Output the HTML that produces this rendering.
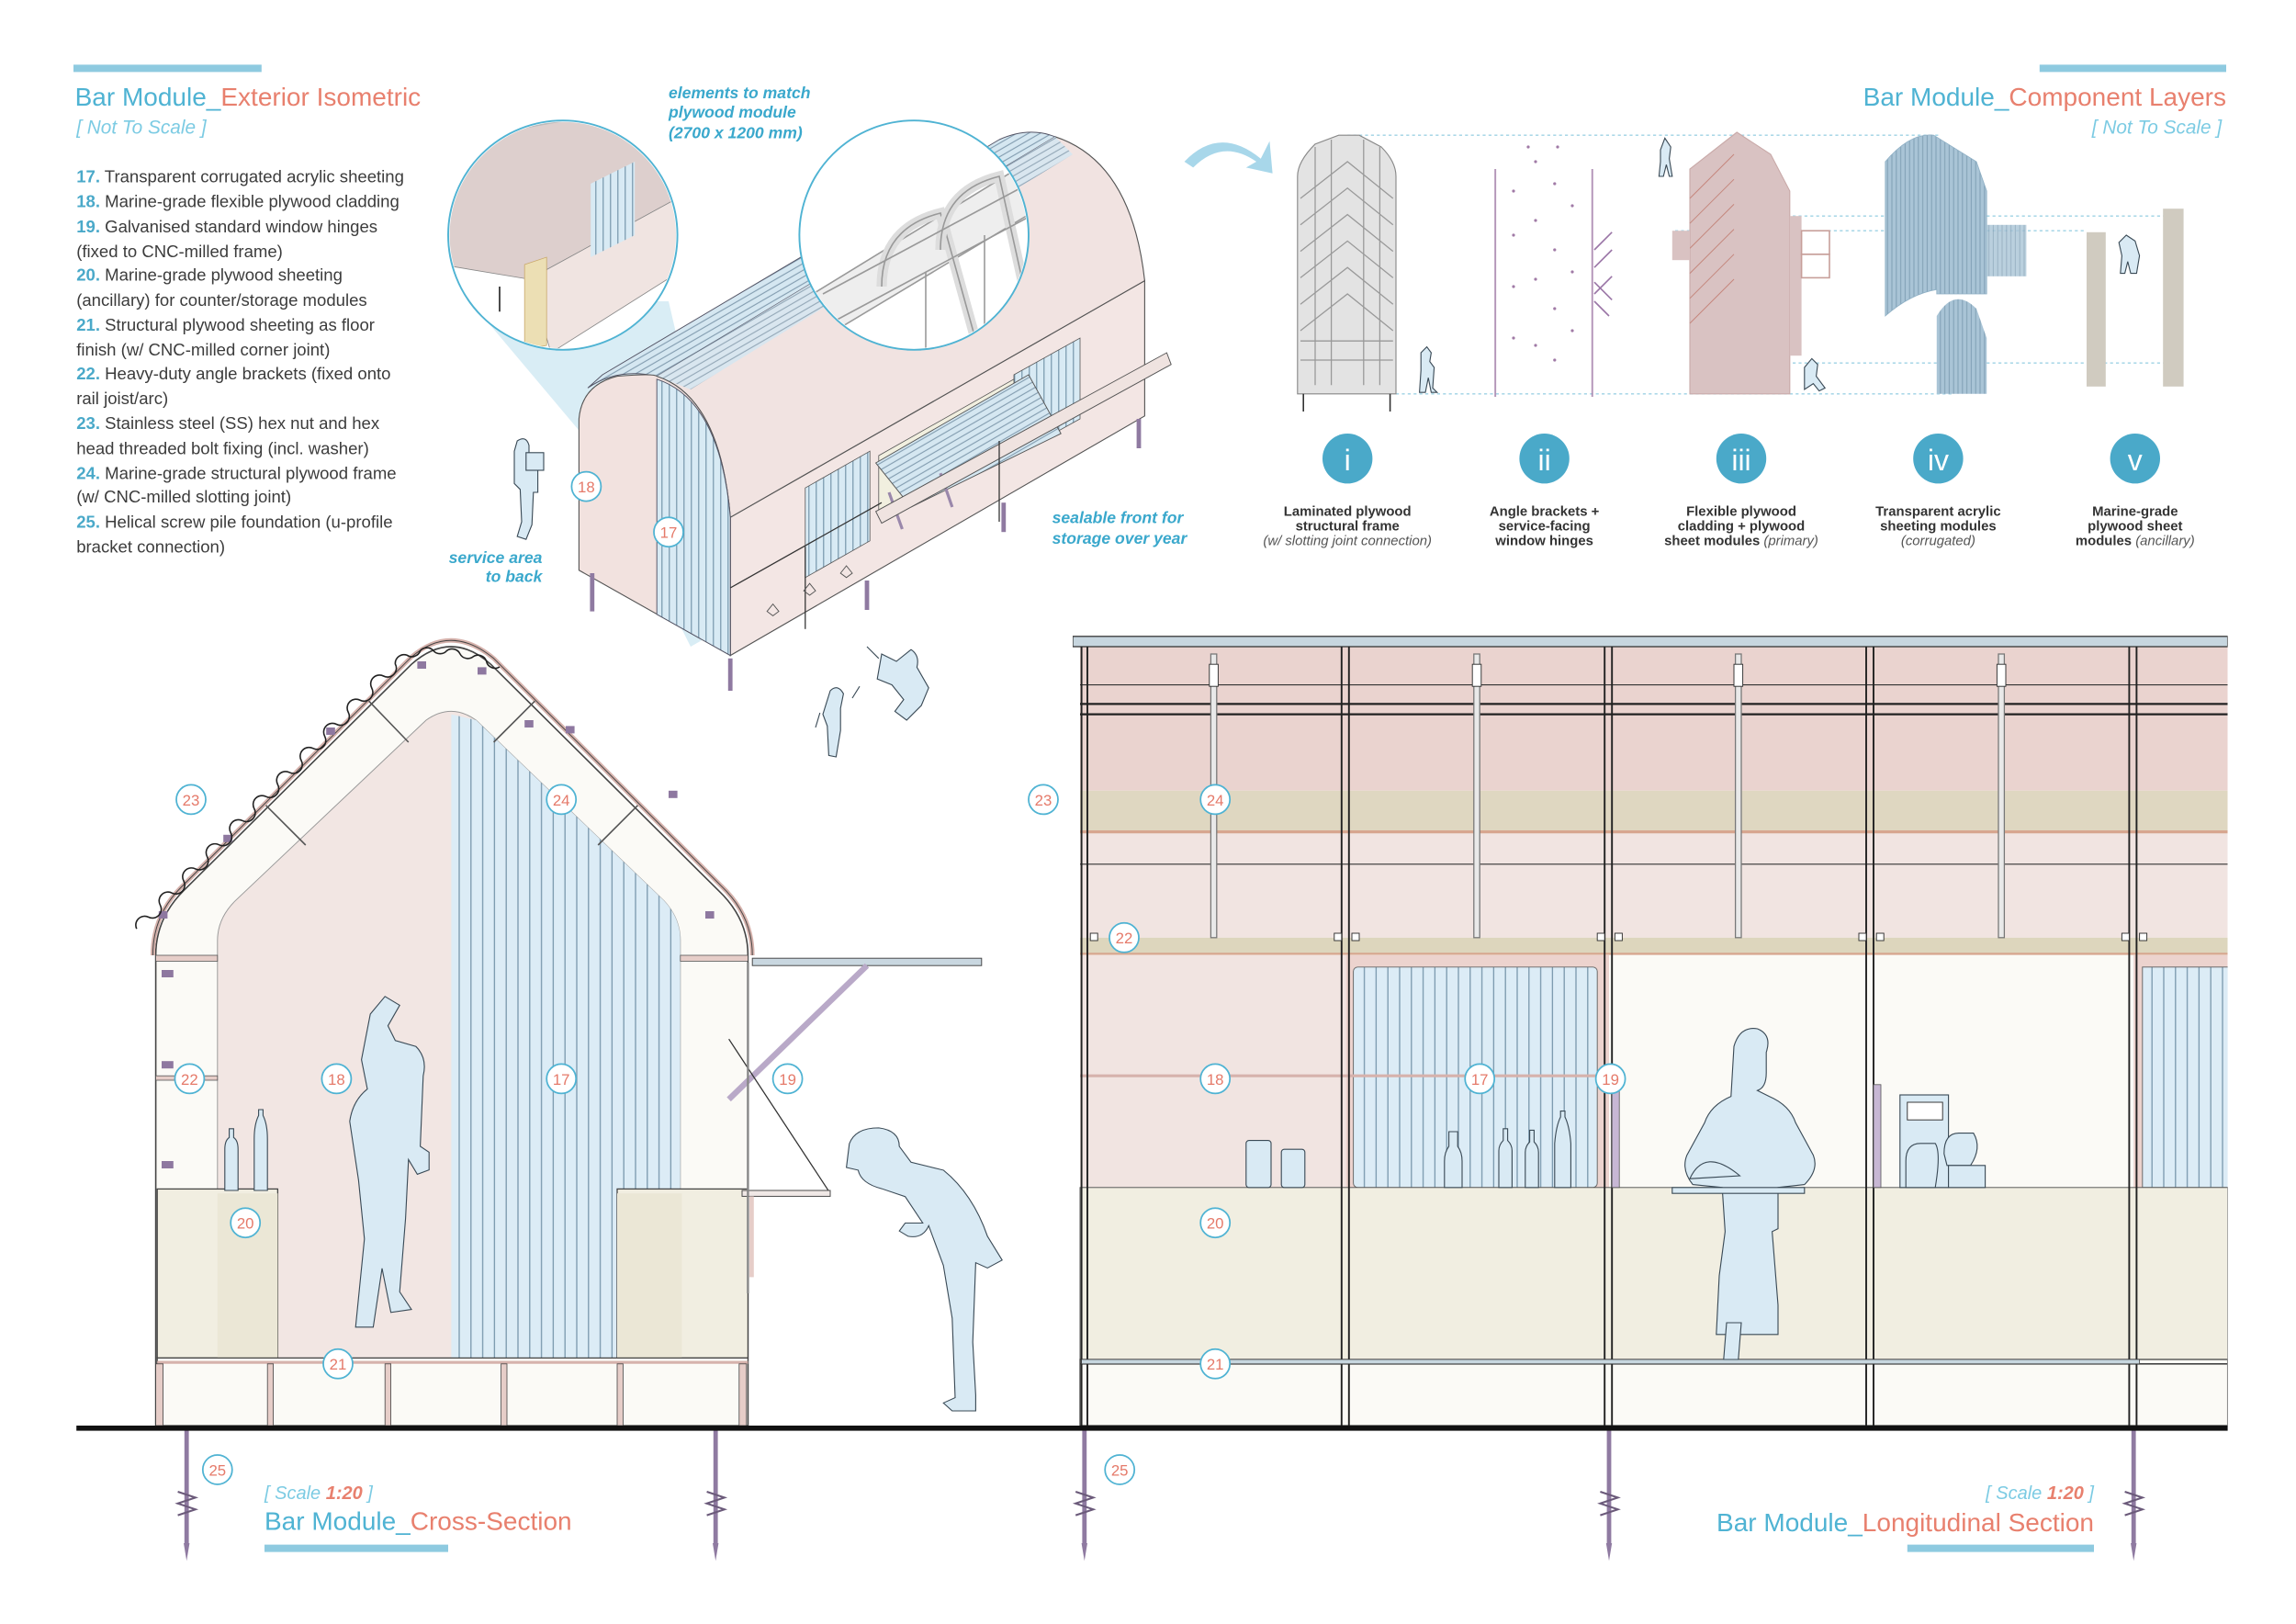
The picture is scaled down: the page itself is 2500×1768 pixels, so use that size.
<!DOCTYPE html>
<html><head><meta charset="utf-8"><style>
html,body{margin:0;padding:0;background:#fff}
svg{display:block}
text{font-family:"Liberation Sans",sans-serif}
</style></head><body>
<svg width="2500" height="1768" viewBox="0 0 1562.5 1105" xmlns="http://www.w3.org/2000/svg">
<defs>
<pattern id="corr" width="5" height="10" patternUnits="userSpaceOnUse"><rect width="5" height="10" fill="#d8eaf4"/><line x1="0.5" y1="0" x2="0.5" y2="10" stroke="#6f8fa6" stroke-width="0.7"/></pattern>
<pattern id="corrB" width="8" height="10" patternUnits="userSpaceOnUse"><rect width="8" height="10" fill="#dcecf6"/><line x1="0.5" y1="0" x2="0.5" y2="10" stroke="#7896ab" stroke-width="0.8"/></pattern>
<pattern id="corrD" width="4" height="4" patternUnits="userSpaceOnUse" patternTransform="rotate(-30)"><rect width="4" height="4" fill="#d5e7f1"/><line x1="0" y1="0.5" x2="4" y2="0.5" stroke="#7590a5" stroke-width="0.6"/></pattern>
<pattern id="corrV" width="3" height="10" patternUnits="userSpaceOnUse"><rect width="3" height="10" fill="#a9c4d6"/><line x1="0.5" y1="0" x2="0.5" y2="10" stroke="#7e9db3" stroke-width="0.6"/></pattern>
</defs>
<style>
.t{font-size:11.6px;fill:#3c3c3c}
.n{fill:#4aa9c9;font-weight:bold}
.lbl circle{fill:#fff;stroke:#4fb3d3;stroke-width:1.1}
.lbl text{font-size:10.5px;fill:#e57a6a;text-anchor:middle}
.cap{font-size:9.3px;fill:#333;text-anchor:middle;font-weight:bold}
.capi{font-style:italic;font-weight:normal;fill:#555}
.note{font-size:11px;fill:#3aa8cc;font-style:italic;font-weight:bold}
.ln{stroke:#333;stroke-width:0.8;fill:none}
.fig{fill:#d9eaf4;stroke:#3a4a56;stroke-width:0.7}
.pile{stroke:#8f7aa1;stroke-width:3;fill:none}
</style>

<rect x="50" y="44" width="128" height="5" fill="#8ecae0"/>
<text x="51" y="72" font-size="17.5"><tspan fill="#4fb3d3">Bar Module_</tspan><tspan fill="#e8806e">Exterior Isometric</tspan></text>
<text x="52" y="91" font-size="13" font-style="italic" fill="#7ccbe3">[ Not To Scale ]</text>

<g class="t">
<text x="52" y="124"><tspan class="n">17.</tspan> Transparent corrugated acrylic sheeting</text>
<text x="52" y="141"><tspan class="n">18.</tspan> Marine-grade flexible plywood cladding</text>
<text x="52" y="158"><tspan class="n">19.</tspan> Galvanised standard window hinges</text>
<text x="52" y="175">(fixed to CNC-milled frame)</text>
<text x="52" y="191"><tspan class="n">20.</tspan> Marine-grade plywood sheeting</text>
<text x="52" y="208">(ancillary) for counter/storage modules</text>
<text x="52" y="225"><tspan class="n">21.</tspan> Structural plywood sheeting as floor</text>
<text x="52" y="242">finish (w/ CNC-milled corner joint)</text>
<text x="52" y="258"><tspan class="n">22.</tspan> Heavy-duty angle brackets (fixed onto</text>
<text x="52" y="275">rail joist/arc)</text>
<text x="52" y="292"><tspan class="n">23.</tspan> Stainless steel (SS) hex nut and hex</text>
<text x="52" y="309">head threaded bolt fixing (incl. washer)</text>
<text x="52" y="326"><tspan class="n">24.</tspan> Marine-grade structural plywood frame</text>
<text x="52" y="342">(w/ CNC-milled slotting joint)</text>
<text x="52" y="359"><tspan class="n">25.</tspan> Helical screw pile foundation (u-profile</text>
<text x="52" y="376">bracket connection)</text>
</g>

<text class="note" x="455" y="67">elements to match</text>
<text class="note" x="455" y="80">plywood module</text>
<text class="note" x="455" y="94" font-weight="normal">(2700 x 1200 mm)</text>
<text class="note" x="716" y="356">sealable front for</text>
<text class="note" x="716" y="370">storage over year</text>
<text class="note" x="369" y="383" text-anchor="end">service area</text>
<text class="note" x="369" y="396" text-anchor="end">to back</text>

<polygon points="320,205 455,205 505,420 470,440 400,300" fill="#bfe1ee" opacity="0.6"/>
<polygon points="497,352 779,191 779,283 497,446" fill="#f3e6e4" stroke="#555" stroke-width="0.7"/>
<path d="M447,256 L718,93 Q770,110 779,191 L497,352 Q490,270 447,256 Z" fill="#f1e3e1" stroke="#555" stroke-width="0.7"/>
<path d="M400,264 Q420,250 447,256 L718,93 Q700,86 680,95 L410,255 Z" fill="url(#corrD)" stroke="#556" stroke-width="0.6"/>
<path d="M447,256 L718,93 L730,105 L470,265 Z" fill="url(#corrD)" opacity="0.85"/>
<path d="M394,285 Q396,262 420,256 Q445,254 447,256 Q490,270 497,352 L497,446 L394,388 Z" fill="#f2e2df" stroke="#555" stroke-width="0.7"/>
<path d="M447,258 Q490,272 497,352 L497,446 L447,418 L447,258 Z" fill="url(#corr)" stroke="#556" stroke-width="0.6"/>
<polygon points="548,332 592,307 592,368 548,393" fill="url(#corr)" stroke="#555" stroke-width="0.5"/>
<polygon points="690,255 735,230 735,285 690,310" fill="url(#corr)" stroke="#555" stroke-width="0.5"/>
<polygon points="598,310 690,258 690,300 598,352" fill="#f1efdf" stroke="#555" stroke-width="0.5"/>
<polygon points="596,315 700,255 722,295 620,345" fill="url(#corrD)" stroke="#555" stroke-width="0.6"/>
<line x1="605" y1="335" x2="614" y2="360" stroke="#9a88ab" stroke-width="2"/>
<line x1="640" y1="322" x2="648" y2="345" stroke="#9a88ab" stroke-width="2"/>
<polygon points="596,348 794,240 797,248 600,356" fill="#efe3e0" stroke="#555" stroke-width="0.6"/>
<line x1="497" y1="400" x2="600" y2="342" class="ln" stroke-width="0.5"/>
<line x1="548" y1="372" x2="548" y2="428" class="ln" stroke-width="0.4"/>
<line x1="680" y1="300" x2="680" y2="355" class="ln" stroke-width="0.4"/>
<g fill="none" stroke="#555" stroke-width="0.6"><path d="M522,416 l4,-5 4,5 -4,3 z"/><path d="M547,402 l4,-5 4,5 -4,3 z"/><path d="M572,390 l4,-5 4,5 -4,3 z"/></g>
<g class="pile" stroke-width="1.6"><line x1="403" y1="390" x2="403" y2="416"/><line x1="497" y1="448" x2="497" y2="470"/><line x1="590" y1="395" x2="590" y2="415"/><line x1="683" y1="342" x2="683" y2="362"/><line x1="775" y1="285" x2="775" y2="305"/></g>
<circle cx="383" cy="160" r="78" fill="#fff" stroke="#4fb3d3" stroke-width="1.2"/>
<clipPath id="c1"><circle cx="383" cy="160" r="77"/></clipPath>
<g clip-path="url(#c1)">
<polygon points="300,90 440,70 470,130 360,190 300,180" fill="#ddcfcd" stroke="#888" stroke-width="0.5"/>
<polygon points="360,190 470,130 470,180 375,240" fill="#f0e4e1" stroke="#888" stroke-width="0.5"/>
<polygon points="402,125 432,110 432,160 402,175" fill="url(#corr)"/>
<polygon points="357,180 372,175 372,235 357,238" fill="#ecdfb4" stroke="#c9a86a" stroke-width="0.5"/>
<line x1="300" y1="95" x2="440" y2="70" stroke="#bbb" stroke-width="5"/>
<line x1="340" y1="195" x2="340" y2="212" stroke="#444" stroke-width="1.2"/>
</g>
<circle cx="622" cy="160" r="78" fill="#fff" stroke="#4fb3d3" stroke-width="1.2"/>
<clipPath id="c2"><circle cx="622" cy="160" r="77"/></clipPath>
<g clip-path="url(#c2)" fill="none" stroke="#999" stroke-width="1">
<path d="M545,205 L700,110 L710,140 L560,230 Z" fill="#eee"/>
<path d="M600,195 Q600,155 640,145 L665,235" stroke-width="7" stroke="#ddd"/>
<path d="M600,195 Q600,155 640,145 L665,235"/>
<path d="M640,170 Q640,130 680,120 L700,210" stroke-width="7" stroke="#ddd"/>
<path d="M640,170 Q640,130 680,120 L700,210"/>
<line x1="560" y1="200" x2="700" y2="125"/><line x1="565" y1="220" x2="705" y2="145"/>
<line x1="630" y1="185" x2="630" y2="240"/><line x1="670" y1="160" x2="670" y2="240"/>
</g>
<g class="lbl"><circle cx="399" cy="331" r="10"/><text x="399" y="335">18</text><circle cx="455" cy="362" r="10"/><text x="455" y="366">17</text></g>
<path class="fig" d="M352,300 q6,-4 8,3 l0,8 6,2 0,22 -3,0 -1,22 -4,10 -6,-2 3,-10 -1,-22 -4,-4 0,-22 z"/>
<rect class="fig" x="358" y="308" width="12" height="12"/>
<path class="fig" d="M565,470 q5,-5 9,2 l-2,10 0,15 -3,18 -5,-1 -1,-20 -3,-8 z M558,485 l-3,10 M580,475 l5,-8"/>
<path class="fig" d="M600,445 l10,5 10,-8 q6,4 4,12 l8,14 -5,12 -10,10 -8,-6 6,-8 -8,-10 -10,-4 z M590,440 l8,8"/>

<path d="M806,110 Q830,85 858,108 L864,96 L866,118 L848,114 L855,110 Q832,94 812,114 Z" fill="#a8d7ea"/>

<rect x="1388" y="44" width="127" height="5" fill="#8ecae0"/>
<text x="1515" y="72" font-size="17.5" text-anchor="end"><tspan fill="#4fb3d3">Bar Module_</tspan><tspan fill="#e8806e">Component Layers</tspan></text>
<text x="1512" y="91" font-size="13" font-style="italic" fill="#7ccbe3" text-anchor="end">[ Not To Scale ]</text>

<g stroke="#9fd2e4" stroke-width="0.8" stroke-dasharray="2,2">
<line x1="917" y1="92" x2="1320" y2="92"/><line x1="1160" y1="147" x2="1485" y2="147"/>
<line x1="1140" y1="157" x2="1420" y2="157"/><line x1="1220" y1="247" x2="1485" y2="247"/>
<line x1="950" y1="268" x2="1330" y2="268"/>
</g>
<g fill="#e3e3e3" stroke="#888" stroke-width="0.7">
<path d="M883,268 L883,120 Q883,110 895,98 L911,92 L925,92 L940,100 Q950,110 950,120 L950,268 Z"/>
</g>
<g fill="none" stroke="#999" stroke-width="0.8">
<path d="M885,135 L917,110 L948,135"/><path d="M885,153 L917,128 L948,153"/><path d="M885,171 L917,146 L948,171"/><path d="M885,189 L917,164 L948,189"/><path d="M885,207 L917,182 L948,207"/><path d="M885,225 L917,200 L948,225"/>
<line x1="895" y1="100" x2="895" y2="262"/><line x1="906" y1="95" x2="906" y2="262"/><line x1="928" y1="95" x2="928" y2="262"/><line x1="939" y1="100" x2="939" y2="262"/>
<line x1="885" y1="245" x2="948" y2="245"/><line x1="885" y1="232" x2="948" y2="232"/>
</g>
<line x1="887" y1="268" x2="887" y2="280" stroke="#333"/><line x1="946" y1="268" x2="946" y2="280" stroke="#333"/>
<path class="fig" d="M967,240 l4,-4 3,4 -1,6 3,4 -1,14 3,3 -4,0 -2,-10 -2,10 -4,0 1,-15 z"/>
<g fill="#a07aa6">
<rect x="1017" y="115" width="1.2" height="155" opacity="0.8"/><rect x="1083" y="115" width="1.2" height="155" opacity="0.8"/>
<circle cx="1030" cy="130" r="1"/><circle cx="1045" cy="110" r="1"/><circle cx="1058" cy="125" r="1"/><circle cx="1070" cy="140" r="1"/><circle cx="1030" cy="160" r="1"/><circle cx="1045" cy="150" r="1"/><circle cx="1058" cy="170" r="1"/><circle cx="1070" cy="185" r="1"/><circle cx="1030" cy="195" r="1"/><circle cx="1045" cy="190" r="1"/><circle cx="1058" cy="210" r="1"/><circle cx="1070" cy="225" r="1"/><circle cx="1030" cy="230" r="1"/><circle cx="1045" cy="235" r="1"/><circle cx="1058" cy="245" r="1"/><circle cx="1040" cy="100" r="1"/><circle cx="1060" cy="100" r="1"/>
</g>
<path d="M1085,170 l12,-12 M1085,182 l12,-12 M1085,192 l12,12 M1085,200 l12,-12 M1085,205 l10,10" stroke="#9a75a6" stroke-width="1"/>
<path class="fig" d="M1130,102 l3,-8 4,6 -1,8 2,12 -2,0 -2,-8 -2,8 -3,0 1,-10 z"/>
<path d="M1150,268 L1150,115 L1182,90 L1205,105 L1218,130 L1218,268 Z" fill="#d9c2c2" stroke="#c9aaa9" stroke-width="0.7"/>
<g stroke="#c4867c" stroke-width="0.6" fill="none"><path d="M1150,135 l30,-30"/><path d="M1150,152 l30,-30"/><path d="M1150,169 l30,-30"/><path d="M1150,186 l30,-30"/><path d="M1150,203 l30,-30"/><path d="M1150,220 l30,-30"/></g>
<rect x="1218" y="147" width="8" height="95" fill="#d9c2c2"/>
<rect x="1226" y="157" width="19" height="16" fill="none" stroke="#c79f9a"/><rect x="1226" y="173" width="19" height="16" fill="none" stroke="#c79f9a"/>
<rect x="1138" y="157" width="12" height="20" fill="#d9c2c2"/>
<path class="fig" d="M1228,250 l5,-6 4,4 -1,8 6,8 -4,2 -4,-5 -6,4 z"/>
<path d="M1283,215 L1283,110 Q1300,90 1316,92 L1345,110 L1352,130 L1352,200 L1318,200 L1318,197 Q1300,200 1283,215 Z" fill="url(#corrV)" stroke="#8fb0c5" stroke-width="0.5"/>
<path d="M1318,268 L1318,215 Q1330,195 1345,210 L1352,230 L1352,268 Z" fill="url(#corrV)"/>
<rect x="1352" y="153" width="27" height="35" fill="url(#corrV)" opacity="0.8"/>
<rect x="1420" y="158" width="13" height="105" fill="#d0cbc0"/><rect x="1472" y="142" width="14" height="121" fill="#d0cbc0"/>
<path class="fig" d="M1442,165 l5,-5 6,4 3,10 -2,12 -4,0 -2,-8 -2,8 -3,0 1,-12 z"/>

<g fill="#4aa9c9"><circle cx="917" cy="312" r="17"/><circle cx="1051" cy="312" r="17"/><circle cx="1185" cy="312" r="17"/><circle cx="1319" cy="312" r="17"/><circle cx="1453" cy="312" r="17"/></g>
<g font-size="20" fill="#fff" text-anchor="middle"><text x="917" y="320">i</text><text x="1051" y="320">ii</text><text x="1185" y="320">iii</text><text x="1319" y="320">iv</text><text x="1453" y="320">v</text></g>
<text class="cap" x="917" y="351">Laminated plywood</text><text class="cap" x="917" y="361">structural frame</text><text class="cap capi" x="917" y="371">(w/ slotting joint connection)</text>
<text class="cap" x="1051" y="351">Angle brackets +</text><text class="cap" x="1051" y="361">service-facing</text><text class="cap" x="1051" y="371">window hinges</text>
<text class="cap" x="1185" y="351">Flexible plywood</text><text class="cap" x="1185" y="361">cladding + plywood</text><text class="cap" x="1185" y="371">sheet modules <tspan class="capi">(primary)</tspan></text>
<text class="cap" x="1319" y="351">Transparent acrylic</text><text class="cap" x="1319" y="361">sheeting modules</text><text class="cap capi" x="1319" y="371">(corrugated)</text>
<text class="cap" x="1453" y="351">Marine-grade</text><text class="cap" x="1453" y="361">plywood sheet</text><text class="cap" x="1453" y="371">modules <tspan class="capi">(ancillary)</tspan></text>

<!-- CROSS SECTION -->
<path d="M106,970 L106,650 Q106,625 125,606 L280,452 Q307,428 334,452 L489,606 Q509,625 509,650 L509,970 Z" fill="#fbfaf6" stroke="#444" stroke-width="1"/>
<path d="M104,650 Q104,623 123,604 L280,447 Q307,424 336,448 L491,603 Q512,623 512,650" fill="none" stroke="#d6b2ac" stroke-width="3"/>
<path d="M104,650 Q104,623 123,604 L280,447 Q307,424 336,448 L491,603 Q512,623 512,650" fill="none" stroke="#444" stroke-width="0.6"/>
<path d="M148,924 L148,640 Q148,625 160,613 L290,490 Q307,478 324,490 L452,613 Q463,625 463,640 L463,924 Z" fill="#f2e6e3" stroke="#999" stroke-width="0.6"/>
<clipPath id="cs"><path d="M307,486 L324,490 L452,613 Q463,625 463,640 L463,924 L307,924 Z"/></clipPath>
<rect x="307" y="480" width="160" height="450" fill="url(#corrB)" clip-path="url(#cs)"/>
<g stroke="#555" stroke-width="1" fill="none">
<line x1="251" y1="477" x2="278" y2="505"/><line x1="364" y1="477" x2="336" y2="505"/>
<line x1="181" y1="548" x2="208" y2="575"/><line x1="434" y1="548" x2="407" y2="575"/>
</g>
<rect x="106" y="650" width="42" height="4" fill="#e6cdc8" stroke="#555" stroke-width="0.5"/>
<rect x="463" y="650" width="46" height="4" fill="#e6cdc8" stroke="#555" stroke-width="0.5"/>
<rect x="106" y="732" width="42" height="3" fill="#e6cdc8" stroke="#555" stroke-width="0.5"/>
<g fill="#8e78a0"><rect x="110" y="660" width="8" height="5"/><rect x="110" y="722" width="8" height="5"/><rect x="110" y="790" width="8" height="5"/><rect x="110" y="820" width="8" height="5"/><rect x="110" y="882" width="8" height="5"/><rect x="110" y="948" width="8" height="5"/><rect x="284" y="450" width="6" height="5"/><rect x="325" y="454" width="6" height="5"/><rect x="357" y="490" width="6" height="5"/><rect x="385" y="494" width="6" height="5"/><rect x="455" y="538" width="6" height="5"/><rect x="152" y="568" width="6" height="5"/><rect x="222" y="495" width="6" height="5"/><rect x="108" y="620" width="6" height="5"/><rect x="480" y="620" width="6" height="5"/></g>
<path transform="translate(-5,-13)" d="M98,645 a6,6 0 0 1 8,-8 a6,6 0 0 0 8,-8.2 a6,6 0 0 1 8,-8.2 a6,6 0 0 0 8,-8.2 a6,6 0 0 1 8,-8.2 a6,6 0 0 0 8,-8.2 a6,6 0 0 1 8,-8.2 a6,6 0 0 0 8,-8.2 a6,6 0 0 1 8,-8.2 a6,6 0 0 0 8,-8.2 a6,6 0 0 1 8,-8.2 a6,6 0 0 0 8,-8.2 a6,6 0 0 1 8,-8.2 a6,6 0 0 0 8,-8.2 a6,6 0 0 1 8,-8.2 a6,6 0 0 0 8,-8.2 a6,6 0 0 1 8,-8.2 a6,6 0 0 0 8,-8.2 a6,6 0 0 1 8,-8.2 a6,6 0 0 0 8,-8.2 a6,6 0 0 1 8,-8.2 a6,6 0 0 0 8,-8.2 a6,6 0 0 1 8,-6 a6,6 0 0 0 9,-3 a6,6 0 0 1 9,0 a6,6 0 0 0 9,0 a6,6 0 0 1 9,2 a6,6 0 0 0 9,2 a6,6 0 0 1 9,3 a6,6 0 0 0 9,4" fill="none" stroke="#222" stroke-width="1"/>
<rect x="107" y="809" width="82" height="115" fill="#f1eee1" stroke="#444" stroke-width="0.8"/>
<rect x="148" y="812" width="41" height="112" fill="#ebe7d6"/>
<rect x="420" y="809" width="89" height="115" fill="#f1eee1" stroke="#444" stroke-width="0.8"/>
<rect x="420" y="812" width="44" height="112" fill="#ebe7d6"/>
<rect x="107" y="924" width="402" height="46" fill="#fbfaf6" stroke="#444" stroke-width="0.8"/>
<line x1="107" y1="927" x2="509" y2="927" stroke="#d6b2ac" stroke-width="2"/>
<g fill="#e6cdc8" stroke="#444" stroke-width="0.5"><rect x="182" y="928" width="4" height="42"/><rect x="262" y="928" width="4" height="42"/><rect x="341" y="928" width="4" height="42"/><rect x="420" y="928" width="4" height="42"/><rect x="106" y="928" width="5" height="42"/><rect x="503" y="928" width="5" height="42"/></g>
<rect x="512" y="652" width="156" height="5" fill="#c9d7e0" stroke="#444" stroke-width="0.6"/>
<line x1="590" y1="657" x2="496" y2="748" stroke="#b9a9c8" stroke-width="4"/>
<line x1="496" y1="707" x2="565" y2="812" stroke="#333" stroke-width="0.8"/>
<rect x="505" y="810" width="60" height="4" fill="#f0e8e6" stroke="#444" stroke-width="0.6"/>
<line x1="509" y1="655" x2="509" y2="880" stroke="#888" stroke-width="1.5"/>
<rect x="510" y="814" width="3" height="55" fill="#e6cdc8"/>
<path class="fig" d="M153,810 l0,-28 q0,-6 3,-8 l0,-6 3,0 0,6 q3,2 3,8 l0,28 z"/>
<path class="fig" d="M173,810 l0,-35 q0,-10 3,-16 l0,-4 3,0 0,4 q3,6 3,16 l0,35 z"/>
<path class="fig" d="M252,690 l10,-12 10,6 -8,14 5,10 14,4 q8,8 5,20 l-2,48 6,4 0,12 -8,3 -6,-10 -2,40 -4,50 8,12 -14,2 -6,-30 -6,40 -12,0 6,-60 -4,-40 -6,-40 q2,-14 12,-22 l-4,-20 z"/>
<path class="fig" transform="translate(0,78) scale(1,0.9)" d="M578,778 q4,-12 20,-12 q14,2 14,14 l8,12 22,6 q20,18 30,50 l10,18 -10,6 -8,-4 -2,60 2,40 0,12 -16,0 -6,-6 8,-4 -2,-60 -6,-40 -10,-30 q-4,10 -14,8 l-6,-4 4,-6 12,0 -12,-20 -16,-6 q-14,-4 -16,-14 l-8,-2 z"/>
<g class="pile"><line x1="127" y1="972" x2="127" y2="1050"/><line x1="487" y1="972" x2="487" y2="1050"/></g>
<g stroke="#6b5a7a" stroke-width="1.3" fill="none"><path d="M121,1015 l12,4 -12,4 12,4 -12,4"/><path d="M481,1015 l12,4 -12,4 12,4 -12,4"/></g>
<path d="M125,1050 l2,12 2,-12 z M485,1050 l2,12 2,-12 z" fill="#8f7aa1"/>

<!-- LONGITUDINAL -->
<clipPath id="ls"><rect x="730" y="430" width="786" height="545"/></clipPath>
<g clip-path="url(#ls)">
<rect x="735" y="440" width="781" height="98" fill="#ead3cf"/>
<rect x="735" y="538" width="781" height="29" fill="#dfd7c1"/>
<rect x="735" y="567" width="781" height="71" fill="#f1e4e1"/>
<rect x="735" y="638" width="781" height="11" fill="#ddd6bd"/>
<line x1="735" y1="649" x2="1516" y2="649" stroke="#d7a68f" stroke-width="1.5"/>
<line x1="735" y1="566" x2="1516" y2="566" stroke="#d7a68f" stroke-width="2"/>
<rect x="735" y="650" width="181" height="158" fill="#f1e4e1"/>
<rect x="916" y="650" width="179" height="158" fill="#ecd3ce"/>
<rect x="921" y="658" width="166" height="150" rx="3" fill="url(#corrB)" stroke="#666" stroke-width="0.6"/>
<rect x="1095" y="650" width="357" height="158" fill="#fbfaf6"/>
<rect x="1452" y="650" width="64" height="158" fill="#ecd3ce"/>
<rect x="1458" y="658" width="60" height="150" fill="url(#corrB)" stroke="#666" stroke-width="0.6"/>
<line x1="735" y1="732" x2="1095" y2="732" stroke="#d6b2ac" stroke-width="2"/>
<rect x="735" y="808" width="781" height="117" fill="#f1eee1" stroke="#555" stroke-width="0.6"/>
<rect x="735" y="925" width="781" height="45" fill="#fbfaf6" stroke="#444" stroke-width="0.8"/>
<line x1="735" y1="928" x2="1516" y2="928" stroke="#444" stroke-width="1"/>
<g stroke="#333" stroke-width="0.7">
<line x1="735" y1="466" x2="1516" y2="466"/><line x1="735" y1="588" x2="1516" y2="588"/>
</g>
<line x1="735" y1="479" x2="1516" y2="479" stroke="#222" stroke-width="1.4"/>
<line x1="735" y1="486" x2="1516" y2="486" stroke="#222" stroke-width="1.4"/>
<rect x="730" y="433" width="786" height="7" fill="#c7d6df" stroke="#333" stroke-width="0.8"/>
<g fill="none" stroke="#222" stroke-width="1.2">
<path d="M736,440 V970 M740,440 V970"/><path d="M913,440 V970 M918,440 V970"/><path d="M1092,440 V970 M1097,440 V970"/><path d="M1270,440 V970 M1275,440 V970"/><path d="M1449,440 V970 M1454,440 V970"/>
</g>
<g stroke="#777" stroke-width="0.8" fill="#e9e9e9">
<rect x="824" y="445" width="4" height="193"/><rect x="1003" y="445" width="4" height="193"/><rect x="1181" y="445" width="4" height="193"/><rect x="1360" y="445" width="4" height="193"/>
</g>
<g fill="#fff" stroke="#333" stroke-width="0.6">
<rect x="823" y="452" width="6" height="15"/><rect x="1002" y="452" width="6" height="15"/><rect x="1180" y="452" width="6" height="15"/><rect x="1359" y="452" width="6" height="15"/>
<rect x="742" y="635" width="5" height="5"/><rect x="908" y="635" width="5" height="5"/><rect x="920" y="635" width="5" height="5"/><rect x="1087" y="635" width="5" height="5"/><rect x="1099" y="635" width="5" height="5"/><rect x="1265" y="635" width="5" height="5"/><rect x="1277" y="635" width="5" height="5"/><rect x="1444" y="635" width="5" height="5"/><rect x="1456" y="635" width="5" height="5"/>
</g>
<g fill="#c7b7d4" stroke="#555" stroke-width="0.5"><rect x="1097" y="738" width="5" height="70"/><rect x="1275" y="738" width="5" height="70"/></g>
<g fill="#c7d6df" stroke="#444" stroke-width="0.5"><rect x="736" y="925" width="720" height="3"/></g>
</g>
<rect class="fig" x="848" y="776" width="17" height="32" rx="2"/><rect class="fig" x="872" y="782" width="16" height="26" rx="2"/>
<path class="fig" d="M983,808 l0,-18 q0,-6 3,-10 l0,-10 6,0 0,10 q3,4 3,10 l0,18 z"/>
<path class="fig" d="M1020,808 l0,-25 q0,-4 3,-7 l0,-8 3,0 0,8 q3,3 3,7 l0,25 z"/>
<path class="fig" d="M1038,808 l0,-24 q0,-4 3,-7 l0,-8 3,0 0,8 q3,3 3,7 l0,24 z"/>
<path class="fig" d="M1058,808 l0,-30 q1,-12 4,-18 l0,-4 3,0 0,4 q3,6 4,18 l0,30 z"/>
<rect class="fig" x="1293" y="745" width="33" height="63"/><rect x="1298" y="750" width="24" height="12" fill="#fff" stroke="#333" stroke-width="0.6"/>
<path class="fig" d="M1297,790 q0,-12 10,-12 l10,0 q4,6 0,30 l-20,0 z"/>
<path class="fig" d="M1323,785 q0,-14 10,-14 l10,0 q6,10 -2,22 l-16,0 z"/>
<rect class="fig" x="1326" y="793" width="25" height="15"/>
<path class="fig" d="M1180,712 q4,-14 16,-12 q10,4 6,16 l0,14 q0,10 -6,12 l8,4 q14,6 18,18 l12,22 q4,10 -6,20 l-18,2 0,28 -4,2 4,50 0,20 -42,0 2,-40 4,-30 -2,-30 -20,-2 q-8,-10 -4,-20 l12,-22 q4,-12 18,-18 z"/>
<path class="fig" d="M1138,808 l90,0 0,4 -90,0 z M1150,802 q10,-22 34,-2 z"/>
<path class="fig" d="M1175,900 l10,0 -2,25 -10,0 z"/>

<g class="pile"><line x1="738" y1="972" x2="738" y2="1050"/><line x1="1095" y1="972" x2="1095" y2="1050"/><line x1="1452" y1="972" x2="1452" y2="1050"/></g>
<g stroke="#6b5a7a" stroke-width="1.3" fill="none"><path d="M732,1015 l12,4 -12,4 12,4 -12,4"/><path d="M1089,1015 l12,4 -12,4 12,4 -12,4"/><path d="M1446,1015 l12,4 -12,4 12,4 -12,4"/></g>
<path d="M736,1050 l2,12 2,-12 z M1093,1050 l2,12 2,-12 z M1450,1050 l2,12 2,-12 z" fill="#8f7aa1"/>

<rect x="52" y="970" width="1464" height="3.5" fill="#111"/>

<g class="lbl">
<circle cx="130" cy="544" r="10"/><text x="130" y="548">23</text>
<circle cx="382" cy="544" r="10"/><text x="382" y="548">24</text>
<circle cx="129" cy="734" r="10"/><text x="129" y="738">22</text>
<circle cx="229" cy="734" r="10"/><text x="229" y="738">18</text>
<circle cx="382" cy="734" r="10"/><text x="382" y="738">17</text>
<circle cx="536" cy="734" r="10"/><text x="536" y="738">19</text>
<circle cx="167" cy="832" r="10"/><text x="167" y="836">20</text>
<circle cx="230" cy="928" r="10"/><text x="230" y="932">21</text>
<circle cx="148" cy="1000" r="10"/><text x="148" y="1004">25</text>
<circle cx="710" cy="544" r="10"/><text x="710" y="548">23</text>
<circle cx="827" cy="544" r="10"/><text x="827" y="548">24</text>
<circle cx="765" cy="638" r="10"/><text x="765" y="642">22</text>
<circle cx="827" cy="734" r="10"/><text x="827" y="738">18</text>
<circle cx="1007" cy="734" r="10"/><text x="1007" y="738">17</text>
<circle cx="1096" cy="734" r="10"/><text x="1096" y="738">19</text>
<circle cx="827" cy="832" r="10"/><text x="827" y="836">20</text>
<circle cx="827" cy="928" r="10"/><text x="827" y="932">21</text>
<circle cx="762" cy="1000" r="10"/><text x="762" y="1004">25</text>
</g>

<text x="180" y="1020" font-size="12.5" font-style="italic" fill="#7ccbe3">[ Scale <tspan fill="#e8806e" font-weight="bold">1:20</tspan> ]</text>
<text x="180" y="1041" font-size="17.5"><tspan fill="#4fb3d3">Bar Module_</tspan><tspan fill="#e8806e">Cross-Section</tspan></text>
<rect x="180" y="1051" width="125" height="5" fill="#8ecae0"/>
<text x="1425" y="1020" font-size="12.5" font-style="italic" fill="#7ccbe3" text-anchor="end">[ Scale <tspan fill="#e8806e" font-weight="bold">1:20</tspan> ]</text>
<text x="1425" y="1042" font-size="17.5" text-anchor="end"><tspan fill="#4fb3d3">Bar Module_</tspan><tspan fill="#e8806e">Longitudinal Section</tspan></text>
<rect x="1298" y="1051" width="127" height="5" fill="#8ecae0"/>
</svg>
</body></html>
